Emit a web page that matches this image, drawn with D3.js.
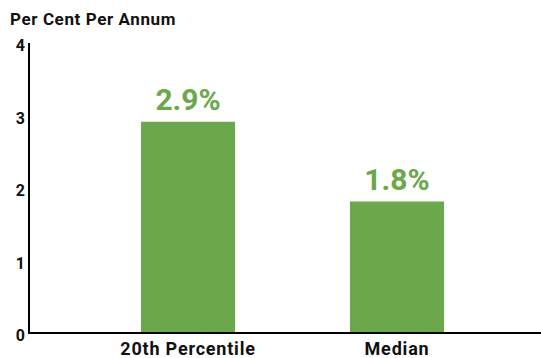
<!DOCTYPE html>
<html>
<head>
<meta charset="utf-8">
<script src="https://cdn.jsdelivr.net/npm/d3@7"></script>
<style>
  html, body { margin: 0; padding: 0; background: #fff; }
  svg { display: block; }
  text { font-family: Roboto, "Liberation Sans", sans-serif; font-weight: 700; }
</style>
</head>
<body>
<svg id="chart" width="541" height="358"></svg>
<script>
// Annual growth rates by percentile
const categories = ["20th Percentile", "Median"];
const values = [2.9, 1.8];
const valueLabels = ["2.9%", "1.8%"];
const yTicks = [0, 1, 2, 3, 4];
const yTitle = "Per Cent Per Annum";

const W = 541, H = 358;
const svg = d3.select("#chart");
const green = "#6aa84b";

const y = d3.scaleLinear().domain([0, 4]).range([332, 42]);
const x = d3.scaleBand()
  .domain(categories)
  .range([29, 541])
  .paddingInner(0.55)
  .paddingOuter(0.5)
  .align(0.536);

// bars
svg.append("g").selectAll("rect")
  .data(values)
  .join("rect")
  .attr("x", (d, i) => x(categories[i]))
  .attr("y", d => y(d))
  .attr("width", x.bandwidth())
  .attr("height", d => y(0) - y(d))
  .attr("fill", green);

// value labels above bars
svg.append("g").selectAll("text")
  .data(values)
  .join("text")
  .attr("x", (d, i) => x(categories[i]) + x.bandwidth() / 2)
  .attr("y", d => y(d) - 12)
  .attr("text-anchor", "middle")
  .attr("fill", green)
  .style("font-size", "30px")
  .text((d, i) => valueLabels[i]);

// y axis
const yAxis = d3.axisLeft(y).tickValues(yTicks).tickSize(0).tickPadding(4).tickFormat(d3.format("d"));
const gy = svg.append("g").attr("transform", "translate(29,0)").call(yAxis);
gy.select(".domain").remove();
gy.selectAll("text")
  .attr("dy", "0.55em")
  .style("font-size", "16px")
  .style("font-family", "Roboto, sans-serif")
  .style("font-weight", 700)
  .attr("fill", "#111");
gy.append("line")
  .attr("x1", 0).attr("x2", 0)
  .attr("y1", y(4) + 1).attr("y2", y(0) + 1)
  .attr("stroke", "#000").attr("stroke-width", 2);

// x axis
const xAxis = d3.axisBottom(x).tickSize(0).tickPadding(10);
const gx = svg.append("g").attr("transform", `translate(0,${y(0)})`).call(xAxis);
gx.select(".domain").remove();
gx.selectAll("text")
  .style("font-size", "18px")
  .style("letter-spacing", "0.8px")
  .style("font-family", "Roboto, sans-serif")
  .style("font-weight", 700)
  .attr("fill", "#111");
gx.append("line")
  .attr("x1", 28).attr("x2", W)
  .attr("y1", 1).attr("y2", 1)
  .attr("stroke", "#000").attr("stroke-width", 2);

// axis title
svg.append("text")
  .attr("x", 10)
  .attr("y", 25)
  .attr("fill", "#111")
  .style("font-size", "17px")
  .style("letter-spacing", "0.6px")
  .text(yTitle);
</script>
</body>
</html>
